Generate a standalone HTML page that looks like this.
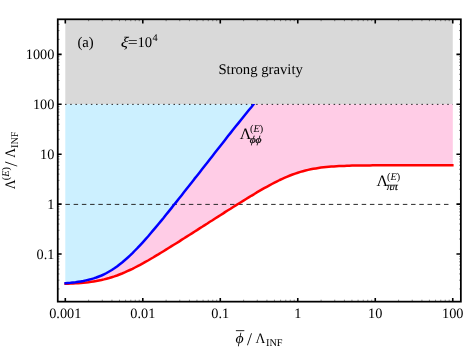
<!DOCTYPE html>
<html><head><meta charset="utf-8"><title>plot</title>
<style>
html,body{margin:0;padding:0;background:#fff;}
body{width:464px;height:348px;overflow:hidden;}
svg{display:block;}
text{font-family:"Liberation Serif",serif;font-size:14.7px;fill:#000;text-rendering:geometricPrecision;}
.it{font-style:italic;}
.s{font-size:10.3px;}
.L{font-size:16px;}
.t{font-size:14.3px;}
</style></head><body>
<svg width="464" height="348" viewBox="0 0 464 348">
<defs>
<filter id="idf" x="0" y="0" width="464" height="348" filterUnits="userSpaceOnUse" color-interpolation-filters="sRGB"><feOffset dx="0" dy="0"/></filter>
<clipPath id="cb"><rect x="0" y="103.91" width="464" height="300"/></clipPath>
</defs>
<rect x="0" y="0" width="464" height="348" fill="#fff"/>
<!-- shaded regions -->
<rect x="65.30" y="19.30" width="387.45" height="85.01" fill="#d9d9d9"/>
<path d="M65.3,104.3 L65.3,283.2 L67.9,283.0 L70.5,282.8 L73.0,282.5 L75.6,282.2 L78.2,281.8 L80.8,281.4 L83.4,281.0 L86.0,280.4 L88.5,279.8 L91.1,279.1 L93.7,278.4 L96.3,277.5 L98.9,276.5 L101.5,275.5 L104.0,274.3 L106.6,273.0 L109.2,271.5 L111.8,270.0 L114.4,268.3 L117.0,266.5 L119.5,264.5 L122.1,262.5 L124.7,260.3 L127.3,258.0 L129.9,255.6 L132.5,253.1 L135.0,250.5 L137.6,247.9 L140.2,245.1 L142.8,242.3 L145.4,239.4 L148.0,236.5 L150.5,233.5 L153.1,230.4 L155.7,227.4 L158.3,224.3 L160.9,221.1 L163.5,218.0 L166.0,214.8 L168.6,211.6 L171.2,208.4 L173.8,205.1 L176.4,201.9 L179.0,198.6 L181.5,195.4 L184.1,192.1 L186.7,188.8 L189.3,185.5 L191.9,182.2 L194.4,178.9 L197.0,175.7 L199.6,172.4 L202.2,169.1 L204.8,165.8 L207.4,162.5 L209.9,159.2 L212.5,155.9 L215.1,152.6 L217.7,149.3 L220.3,146.0 L222.9,142.7 L225.4,139.4 L228.0,136.1 L230.6,132.9 L233.2,129.6 L235.8,126.3 L238.4,123.1 L240.9,119.9 L243.5,116.7 L246.1,113.5 L248.7,110.3 L251.3,107.2 L253.6,104.3 Z" fill="#ccf0ff"/>
<path d="M65.3,283.2 L67.9,283.0 L70.5,282.8 L73.0,282.5 L75.6,282.2 L78.2,281.8 L80.8,281.4 L83.4,281.0 L86.0,280.4 L88.5,279.8 L91.1,279.1 L93.7,278.4 L96.3,277.5 L98.9,276.5 L101.5,275.5 L104.0,274.3 L106.6,273.0 L109.2,271.5 L111.8,270.0 L114.4,268.3 L117.0,266.5 L119.5,264.5 L122.1,262.5 L124.7,260.3 L127.3,258.0 L129.9,255.6 L132.5,253.1 L135.0,250.5 L137.6,247.9 L140.2,245.1 L142.8,242.3 L145.4,239.4 L148.0,236.5 L150.5,233.5 L153.1,230.4 L155.7,227.4 L158.3,224.3 L160.9,221.1 L163.5,218.0 L166.0,214.8 L168.6,211.6 L171.2,208.4 L173.8,205.1 L176.4,201.9 L179.0,198.6 L181.5,195.4 L184.1,192.1 L186.7,188.8 L189.3,185.5 L191.9,182.2 L194.4,178.9 L197.0,175.7 L199.6,172.4 L202.2,169.1 L204.8,165.8 L207.4,162.5 L209.9,159.2 L212.5,155.9 L215.1,152.6 L217.7,149.3 L220.3,146.0 L222.9,142.7 L225.4,139.4 L228.0,136.1 L230.6,132.9 L233.2,129.6 L235.8,126.3 L238.4,123.1 L240.9,119.9 L243.5,116.7 L246.1,113.5 L248.7,110.3 L251.3,107.2 L253.6,104.3 L452.8,104.3 L452.8,165.2 L450.2,165.2 L447.6,165.2 L445.0,165.2 L442.4,165.2 L439.8,165.2 L437.3,165.2 L434.7,165.2 L432.1,165.2 L429.5,165.2 L426.9,165.2 L424.3,165.2 L421.8,165.2 L419.2,165.2 L416.6,165.2 L414.0,165.2 L411.4,165.2 L408.8,165.2 L406.3,165.2 L403.7,165.2 L401.1,165.2 L398.5,165.2 L395.9,165.2 L393.3,165.2 L390.8,165.3 L388.2,165.3 L385.6,165.3 L383.0,165.3 L380.4,165.3 L377.8,165.3 L375.3,165.3 L372.7,165.3 L370.1,165.4 L367.5,165.4 L364.9,165.4 L362.3,165.4 L359.8,165.5 L357.2,165.5 L354.6,165.6 L352.0,165.6 L349.4,165.7 L346.8,165.8 L344.3,165.9 L341.7,166.0 L339.1,166.1 L336.5,166.2 L333.9,166.4 L331.3,166.6 L328.8,166.8 L326.2,167.0 L323.6,167.3 L321.0,167.6 L318.4,168.0 L315.9,168.4 L313.3,168.8 L310.7,169.3 L308.1,169.9 L305.5,170.5 L302.9,171.2 L300.4,171.9 L297.8,172.7 L295.2,173.6 L292.6,174.5 L290.0,175.5 L287.4,176.6 L284.9,177.7 L282.3,178.8 L279.7,180.0 L277.1,181.3 L274.5,182.6 L271.9,184.0 L269.4,185.4 L266.8,186.8 L264.2,188.2 L261.6,189.7 L259.0,191.2 L256.4,192.7 L253.9,194.3 L251.3,195.8 L248.7,197.4 L246.1,199.0 L243.5,200.6 L240.9,202.2 L238.4,203.8 L235.8,205.4 L233.2,207.0 L230.6,208.7 L228.0,210.3 L225.4,211.9 L222.9,213.6 L220.3,215.2 L217.7,216.9 L215.1,218.5 L212.5,220.2 L209.9,221.8 L207.4,223.5 L204.8,225.1 L202.2,226.8 L199.6,228.4 L197.0,230.1 L194.4,231.7 L191.9,233.4 L189.3,235.0 L186.7,236.6 L184.1,238.3 L181.5,239.9 L179.0,241.6 L176.4,243.2 L173.8,244.8 L171.2,246.4 L168.6,248.0 L166.0,249.6 L163.5,251.2 L160.9,252.8 L158.3,254.4 L155.7,255.9 L153.1,257.5 L150.5,259.0 L148.0,260.5 L145.4,261.9 L142.8,263.4 L140.2,264.8 L137.6,266.2 L135.0,267.5 L132.5,268.8 L129.9,270.0 L127.3,271.2 L124.7,272.4 L122.1,273.5 L119.5,274.5 L117.0,275.5 L114.4,276.4 L111.8,277.2 L109.2,278.0 L106.6,278.7 L104.0,279.4 L101.5,280.0 L98.9,280.5 L96.3,281.0 L93.7,281.4 L91.1,281.8 L88.5,282.2 L86.0,282.5 L83.4,282.7 L80.8,283.0 L78.2,283.2 L75.6,283.3 L73.0,283.5 L70.5,283.6 L67.9,283.7 L65.3,283.8 Z" fill="#ffcce6"/>
<!-- reference lines -->
<line x1="65.05" y1="104.36" x2="452.75" y2="104.36" stroke="#222" stroke-width="1" stroke-dasharray="1.5 3.665"/>
<line x1="65.40" y1="204.40" x2="451.95" y2="204.40" stroke="#2a2a2a" stroke-width="1" stroke-dasharray="4.5 3.73"/>
<!-- curves -->
<path d="M64.4,283.8 L65.3,283.8 L67.9,283.7 L70.5,283.6 L73.0,283.5 L75.6,283.3 L78.2,283.2 L80.8,283.0 L83.4,282.7 L86.0,282.5 L88.5,282.2 L91.1,281.8 L93.7,281.4 L96.3,281.0 L98.9,280.5 L101.5,280.0 L104.0,279.4 L106.6,278.7 L109.2,278.0 L111.8,277.2 L114.4,276.4 L117.0,275.5 L119.5,274.5 L122.1,273.5 L124.7,272.4 L127.3,271.2 L129.9,270.0 L132.5,268.8 L135.0,267.5 L137.6,266.2 L140.2,264.8 L142.8,263.4 L145.4,261.9 L148.0,260.5 L150.5,259.0 L153.1,257.5 L155.7,255.9 L158.3,254.4 L160.9,252.8 L163.5,251.2 L166.0,249.6 L168.6,248.0 L171.2,246.4 L173.8,244.8 L176.4,243.2 L179.0,241.6 L181.5,239.9 L184.1,238.3 L186.7,236.6 L189.3,235.0 L191.9,233.4 L194.4,231.7 L197.0,230.1 L199.6,228.4 L202.2,226.8 L204.8,225.1 L207.4,223.5 L209.9,221.8 L212.5,220.2 L215.1,218.5 L217.7,216.9 L220.3,215.2 L222.9,213.6 L225.4,211.9 L228.0,210.3 L230.6,208.7 L233.2,207.0 L235.8,205.4 L238.4,203.8 L240.9,202.2 L243.5,200.6 L246.1,199.0 L248.7,197.4 L251.3,195.8 L253.9,194.3 L256.4,192.7 L259.0,191.2 L261.6,189.7 L264.2,188.2 L266.8,186.8 L269.4,185.4 L271.9,184.0 L274.5,182.6 L277.1,181.3 L279.7,180.0 L282.3,178.8 L284.9,177.7 L287.4,176.6 L290.0,175.5 L292.6,174.5 L295.2,173.6 L297.8,172.7 L300.4,171.9 L302.9,171.2 L305.5,170.5 L308.1,169.9 L310.7,169.3 L313.3,168.8 L315.9,168.4 L318.4,168.0 L321.0,167.6 L323.6,167.3 L326.2,167.0 L328.8,166.8 L331.3,166.6 L333.9,166.4 L336.5,166.2 L339.1,166.1 L341.7,166.0 L344.3,165.9 L346.8,165.8 L349.4,165.7 L352.0,165.6 L354.6,165.6 L357.2,165.5 L359.8,165.5 L362.3,165.4 L364.9,165.4 L367.5,165.4 L370.1,165.4 L372.7,165.3 L375.3,165.3 L377.8,165.3 L380.4,165.3 L383.0,165.3 L385.6,165.3 L388.2,165.3 L390.8,165.3 L393.3,165.2 L395.9,165.2 L398.5,165.2 L401.1,165.2 L403.7,165.2 L406.3,165.2 L408.8,165.2 L411.4,165.2 L414.0,165.2 L416.6,165.2 L419.2,165.2 L421.8,165.2 L424.3,165.2 L426.9,165.2 L429.5,165.2 L432.1,165.2 L434.7,165.2 L437.3,165.2 L439.8,165.2 L442.4,165.2 L445.0,165.2 L447.6,165.2 L450.2,165.2 L452.8,165.2 L453.6,165.2" fill="none" stroke="#ff0000" stroke-width="2.5" stroke-linejoin="round"/>
<path d="M64.4,283.2 L65.3,283.2 L67.9,283.0 L70.5,282.8 L73.0,282.5 L75.6,282.2 L78.2,281.8 L80.8,281.4 L83.4,281.0 L86.0,280.4 L88.5,279.8 L91.1,279.1 L93.7,278.4 L96.3,277.5 L98.9,276.5 L101.5,275.5 L104.0,274.3 L106.6,273.0 L109.2,271.5 L111.8,270.0 L114.4,268.3 L117.0,266.5 L119.5,264.5 L122.1,262.5 L124.7,260.3 L127.3,258.0 L129.9,255.6 L132.5,253.1 L135.0,250.5 L137.6,247.9 L140.2,245.1 L142.8,242.3 L145.4,239.4 L148.0,236.5 L150.5,233.5 L153.1,230.4 L155.7,227.4 L158.3,224.3 L160.9,221.1 L163.5,218.0 L166.0,214.8 L168.6,211.6 L171.2,208.4 L173.8,205.1 L176.4,201.9 L179.0,198.6 L181.5,195.4 L184.1,192.1 L186.7,188.8 L189.3,185.5 L191.9,182.2 L194.4,178.9 L197.0,175.7 L199.6,172.4 L202.2,169.1 L204.8,165.8 L207.4,162.5 L209.9,159.2 L212.5,155.9 L215.1,152.6 L217.7,149.3 L220.3,146.0 L222.9,142.7 L225.4,139.4 L228.0,136.1 L230.6,132.9 L233.2,129.6 L235.8,126.3 L238.4,123.1 L240.9,119.9 L243.5,116.7 L246.1,113.5 L248.7,110.3 L251.3,107.2 L253.6,104.3 L256.9,100.5" fill="none" stroke="#0000ff" stroke-width="2.5" stroke-linejoin="round" clip-path="url(#cb)"/>
<!-- frame and ticks -->
<g stroke="#000" fill="none">
<path d="M88.63,301.65 L88.63,299.70 M88.63,19.30 L88.63,21.20 M102.27,301.65 L102.27,299.70 M102.27,19.30 L102.27,21.20 M111.95,301.65 L111.95,299.70 M111.95,19.30 L111.95,21.20 M119.46,301.65 L119.46,299.70 M119.46,19.30 L119.46,21.20 M125.60,301.65 L125.60,299.70 M125.60,19.30 L125.60,21.20 M130.79,301.65 L130.79,299.70 M130.79,19.30 L130.79,21.20 M135.28,301.65 L135.28,299.70 M135.28,19.30 L135.28,21.20 M139.24,301.65 L139.24,299.70 M139.24,19.30 L139.24,21.20 M166.12,301.65 L166.12,299.70 M166.12,19.30 L166.12,21.20 M179.76,301.65 L179.76,299.70 M179.76,19.30 L179.76,21.20 M189.44,301.65 L189.44,299.70 M189.44,19.30 L189.44,21.20 M196.95,301.65 L196.95,299.70 M196.95,19.30 L196.95,21.20 M203.09,301.65 L203.09,299.70 M203.09,19.30 L203.09,21.20 M208.28,301.65 L208.28,299.70 M208.28,19.30 L208.28,21.20 M212.77,301.65 L212.77,299.70 M212.77,19.30 L212.77,21.20 M216.73,301.65 L216.73,299.70 M216.73,19.30 L216.73,21.20 M243.61,301.65 L243.61,299.70 M243.61,19.30 L243.61,21.20 M257.25,301.65 L257.25,299.70 M257.25,19.30 L257.25,21.20 M266.93,301.65 L266.93,299.70 M266.93,19.30 L266.93,21.20 M274.44,301.65 L274.44,299.70 M274.44,19.30 L274.44,21.20 M280.58,301.65 L280.58,299.70 M280.58,19.30 L280.58,21.20 M285.77,301.65 L285.77,299.70 M285.77,19.30 L285.77,21.20 M290.26,301.65 L290.26,299.70 M290.26,19.30 L290.26,21.20 M294.22,301.65 L294.22,299.70 M294.22,19.30 L294.22,21.20 M321.10,301.65 L321.10,299.70 M321.10,19.30 L321.10,21.20 M334.74,301.65 L334.74,299.70 M334.74,19.30 L334.74,21.20 M344.42,301.65 L344.42,299.70 M344.42,19.30 L344.42,21.20 M351.93,301.65 L351.93,299.70 M351.93,19.30 L351.93,21.20 M358.07,301.65 L358.07,299.70 M358.07,19.30 L358.07,21.20 M363.26,301.65 L363.26,299.70 M363.26,19.30 L363.26,21.20 M367.75,301.65 L367.75,299.70 M367.75,19.30 L367.75,21.20 M371.71,301.65 L371.71,299.70 M371.71,19.30 L371.71,21.20 M398.59,301.65 L398.59,299.70 M398.59,19.30 L398.59,21.20 M412.23,301.65 L412.23,299.70 M412.23,19.30 L412.23,21.20 M421.91,301.65 L421.91,299.70 M421.91,19.30 L421.91,21.20 M429.42,301.65 L429.42,299.70 M429.42,19.30 L429.42,21.20 M435.56,301.65 L435.56,299.70 M435.56,19.30 L435.56,21.20 M440.75,301.65 L440.75,299.70 M440.75,19.30 L440.75,21.20 M445.24,301.65 L445.24,299.70 M445.24,19.30 L445.24,21.20 M449.20,301.65 L449.20,299.70 M449.20,19.30 L449.20,21.20 M57.75,288.96 L59.55,288.96 M460.85,288.96 L459.05,288.96 M57.75,280.17 L59.55,280.17 M460.85,280.17 L459.05,280.17 M57.75,273.94 L59.55,273.94 M460.85,273.94 L459.05,273.94 M57.75,269.10 L59.55,269.10 M460.85,269.10 L459.05,269.10 M57.75,265.14 L59.55,265.14 M460.85,265.14 L459.05,265.14 M57.75,261.80 L59.55,261.80 M460.85,261.80 L459.05,261.80 M57.75,258.91 L59.55,258.91 M460.85,258.91 L459.05,258.91 M57.75,256.35 L59.55,256.35 M460.85,256.35 L459.05,256.35 M57.75,239.04 L59.55,239.04 M460.85,239.04 L459.05,239.04 M57.75,230.25 L59.55,230.25 M460.85,230.25 L459.05,230.25 M57.75,224.02 L59.55,224.02 M460.85,224.02 L459.05,224.02 M57.75,219.18 L59.55,219.18 M460.85,219.18 L459.05,219.18 M57.75,215.22 L59.55,215.22 M460.85,215.22 L459.05,215.22 M57.75,211.88 L59.55,211.88 M460.85,211.88 L459.05,211.88 M57.75,208.99 L59.55,208.99 M460.85,208.99 L459.05,208.99 M57.75,206.43 L59.55,206.43 M460.85,206.43 L459.05,206.43 M57.75,189.12 L59.55,189.12 M460.85,189.12 L459.05,189.12 M57.75,180.33 L59.55,180.33 M460.85,180.33 L459.05,180.33 M57.75,174.10 L59.55,174.10 M460.85,174.10 L459.05,174.10 M57.75,169.26 L59.55,169.26 M460.85,169.26 L459.05,169.26 M57.75,165.30 L59.55,165.30 M460.85,165.30 L459.05,165.30 M57.75,161.96 L59.55,161.96 M460.85,161.96 L459.05,161.96 M57.75,159.07 L59.55,159.07 M460.85,159.07 L459.05,159.07 M57.75,156.51 L59.55,156.51 M460.85,156.51 L459.05,156.51 M57.75,139.20 L59.55,139.20 M460.85,139.20 L459.05,139.20 M57.75,130.41 L59.55,130.41 M460.85,130.41 L459.05,130.41 M57.75,124.18 L59.55,124.18 M460.85,124.18 L459.05,124.18 M57.75,119.34 L59.55,119.34 M460.85,119.34 L459.05,119.34 M57.75,115.38 L59.55,115.38 M460.85,115.38 L459.05,115.38 M57.75,112.04 L59.55,112.04 M460.85,112.04 L459.05,112.04 M57.75,109.15 L59.55,109.15 M460.85,109.15 L459.05,109.15 M57.75,106.59 L59.55,106.59 M460.85,106.59 L459.05,106.59 M57.75,89.28 L59.55,89.28 M460.85,89.28 L459.05,89.28 M57.75,80.49 L59.55,80.49 M460.85,80.49 L459.05,80.49 M57.75,74.26 L59.55,74.26 M460.85,74.26 L459.05,74.26 M57.75,69.42 L59.55,69.42 M460.85,69.42 L459.05,69.42 M57.75,65.46 L59.55,65.46 M460.85,65.46 L459.05,65.46 M57.75,62.12 L59.55,62.12 M460.85,62.12 L459.05,62.12 M57.75,59.23 L59.55,59.23 M460.85,59.23 L459.05,59.23 M57.75,56.67 L59.55,56.67 M460.85,56.67 L459.05,56.67 M57.75,39.36 L59.55,39.36 M460.85,39.36 L459.05,39.36 M57.75,30.57 L59.55,30.57 M460.85,30.57 L459.05,30.57 M57.75,24.34 L59.55,24.34 M460.85,24.34 L459.05,24.34" stroke-width="0.45"/>
<path d="M65.30,301.65 L65.30,297.95 M65.30,19.30 L65.30,23.60 M142.79,301.65 L142.79,297.95 M142.79,19.30 L142.79,23.60 M220.28,301.65 L220.28,297.95 M220.28,19.30 L220.28,23.60 M297.77,301.65 L297.77,297.95 M297.77,19.30 L297.77,23.60 M375.26,301.65 L375.26,297.95 M375.26,19.30 L375.26,23.60 M452.75,301.65 L452.75,297.95 M452.75,19.30 L452.75,23.60 M57.75,254.07 L61.65,254.07 M460.85,254.07 L456.45,254.07 M57.75,204.15 L61.65,204.15 M460.85,204.15 L456.45,204.15 M57.75,154.23 L61.65,154.23 M460.85,154.23 L456.45,154.23 M57.75,104.31 L61.65,104.31 M460.85,104.31 L456.45,104.31 M57.75,54.39 L61.65,54.39 M460.85,54.39 L456.45,54.39" stroke-width="1.6"/>
<rect x="57.75" y="19.3" width="403.10" height="282.35" stroke-width="1.75"/>
</g>
<g filter="url(#idf)">
<!-- tick labels -->
<text x="65.30" y="317.9" class="t" text-anchor="middle">0.001</text>
<text x="142.79" y="317.9" class="t" text-anchor="middle">0.01</text>
<text x="220.28" y="317.9" class="t" text-anchor="middle">0.1</text>
<text x="297.77" y="317.9" class="t" text-anchor="middle">1</text>
<text x="375.26" y="317.9" class="t" text-anchor="middle">10</text>
<text x="452.75" y="317.9" class="t" text-anchor="middle">100</text>
<text x="54.4" y="258.87" class="t" text-anchor="end">0.1</text>
<text x="54.4" y="208.95" class="t" text-anchor="end">1</text>
<text x="54.4" y="159.03" class="t" text-anchor="end">10</text>
<text x="54.4" y="109.11" class="t" text-anchor="end">100</text>
<text x="54.4" y="59.19" class="t" text-anchor="end">1000</text>
<!-- annotations -->
<text x="77.4" y="46.5">(a)</text>
<text transform="translate(120.4,46.5) scale(1.18,1) skewX(-6)" class="it">ξ</text>
<text transform="translate(127.7,47.4) scale(1.2,1)">=</text>
<text x="137.5" y="46.5">10</text>
<text x="152.4" y="40.8" class="s">4</text>
<text x="218.4" y="74.3">Strong gravity</text>
<!-- Lambda phi phi -->
<text x="239.7" y="139" class="L">Λ</text>
<text x="250.1" y="132.3" class="s">(<tspan class="it">E</tspan>)</text>
<text transform="translate(249.4,142.8) scale(1.1,1) skewX(-6)" class="s it" stroke="#000" stroke-width="0.2">ϕϕ</text>
<!-- Lambda pi pi -->
<text x="376.6" y="185.5" class="L">Λ</text>
<text x="387" y="179.6" class="s">(<tspan class="it">E</tspan>)</text>
<text transform="translate(386.7,189.5) scale(1.08,1.08)" class="s it" stroke="#000" stroke-width="0.2">ππ</text>
<!-- x label -->
<text transform="translate(235.6,342.7) scale(1.07,1)" class="it">ϕ</text>
<line x1="235.9" y1="330.65" x2="244.3" y2="330.65" stroke="#000" stroke-width="0.85"/>
<text x="247" y="344.9" style="font-size:17.9px">/</text>
<text transform="translate(255.5,342.5) scale(0.94,1)" style="font-size:14.5px">Λ</text>
<text x="266" y="345.6" class="s">INF</text>
<!-- y label -->
<g transform="translate(15.1,189.3) rotate(-90)">
<text transform="scale(0.92,1)" style="font-size:14.5px">Λ</text>
<text x="9.0" y="-6.0" class="s">(<tspan class="it">E</tspan>)</text>
<text x="22.9" y="1.5" style="font-size:17.9px">/</text>
<text transform="translate(31.5,0) scale(0.92,1)" style="font-size:14.5px">Λ</text>
<text x="41.3" y="2.9" class="s">INF</text>
</g>
</g>
</svg>
</body></html>
